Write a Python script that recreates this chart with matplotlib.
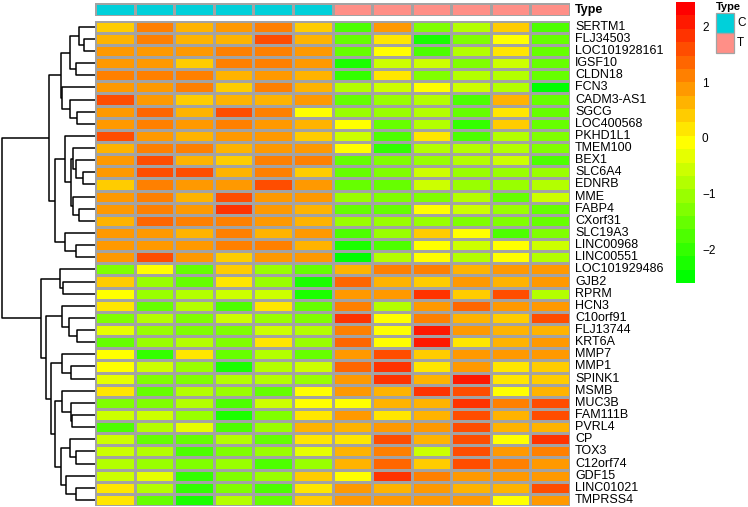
import numpy as np
import matplotlib.pyplot as plt
from matplotlib.colors import LinearSegmentedColormap, ListedColormap
from matplotlib.patches import Rectangle
from matplotlib.transforms import blended_transform_factory

plt.rcParams['font.family'] = ['Liberation Sans', 'DejaVu Sans']

# genes in the row order of the heatmap (top to bottom)
genes = ['SERTM1', 'FLJ34503', 'LOC101928161', 'IGSF10', 'CLDN18', 'FCN3',
         'CADM3-AS1', 'SGCG', 'LOC400568', 'PKHD1L1', 'TMEM100', 'BEX1',
         'SLC6A4', 'EDNRB', 'MME', 'FABP4', 'CXorf31', 'SLC19A3', 'LINC00968',
         'LINC00551', 'LOC101929486', 'GJB2', 'RPRM', 'HCN3', 'C10orf91',
         'FLJ13744', 'KRT6A', 'MMP7', 'MMP1', 'SPINK1', 'MSMB', 'MUC3B',
         'FAM111B', 'PVRL4', 'CP', 'TOX3', 'C12orf74', 'GDF15', 'LINC01021',
         'TMPRSS4']

sample_type = ['C', 'C', 'C', 'C', 'C', 'C', 'T', 'T', 'T', 'T', 'T', 'T']

# scaled expression, one list per gene, one value per sample
expr = [
    [0.5, 1.1, 0.75, 1.0, 1.1, 0.45, -1.7, 0.8, -1.2, -0.8, 0.5, -1.7],
    [0.75, 1.15, 0.75, 0.65, 1.6, 0.7, -1.4, 0.1, -2.1, -1.2, -0.15, -1.4],
    [0.8, 1.0, 0.8, 1.15, 1.15, 1.0, -1.5, -0.15, -1.7, -0.8, 0.3, -1.4],
    [1.0, 1.0, 0.5, 1.15, 1.15, 1.0, -2.1, -0.5, -0.5, -1.2, -0.5, -1.4],
    [1.15, 1.15, 1.25, 0.75, 1.0, 0.75, -1.9, 0.1, -1.2, -0.8, -0.7, -1.4],
    [1.0, 1.0, 1.25, 0.45, 1.15, 0.75, -0.7, -0.5, -0.15, -0.5, -0.8, -2.4],
    [1.6, 1.0, 0.5, 0.75, 0.75, 1.0, -1.5, -1.0, -0.7, -1.7, 0.75, -1.4],
    [0.9, 1.35, 0.75, 1.6, 1.15, -0.15, -1.0, -1.0, -0.8, -1.4, 0.3, -1.5],
    [0.8, 1.15, 1.0, 1.15, 1.0, 0.75, -0.15, -1.5, -0.8, -1.9, 0.5, -1.4],
    [1.6, 1.0, 0.75, 1.0, 1.0, 0.5, -0.5, -1.7, 0.1, -1.7, -0.8, -1.2],
    [0.75, 1.15, 1.15, 0.75, 1.0, 1.0, -0.15, -1.9, -0.7, -0.8, -0.8, -1.2],
    [1.0, 1.6, 0.75, 0.45, 1.15, 1.25, -1.5, -1.2, -1.0, -0.8, -0.5, -1.7],
    [0.9, 1.6, 1.6, 0.75, 1.25, 0.5, -1.5, -1.2, -0.5, -1.0, -1.0, -1.0],
    [0.45, 1.25, 1.0, 1.0, 1.6, 1.0, -1.5, -1.4, -0.5, -1.0, -1.0, -0.8],
    [1.0, 1.15, 0.75, 1.6, 0.9, 1.0, -1.0, -1.2, -1.2, -0.8, -1.5, -0.5],
    [0.8, 1.15, 1.0, 1.8, 0.9, 0.75, -1.5, -1.5, 0.0, -0.5, -1.0, -1.5],
    [0.75, 1.4, 1.15, 1.15, 0.9, 0.75, -1.0, -1.0, -1.0, -1.2, -1.2, -1.4],
    [0.8, 0.9, 0.75, 1.15, 0.65, 0.9, -1.7, -1.0, 0.5, -0.15, -1.7, -1.2],
    [0.8, 0.9, 0.8, 1.15, 1.15, 0.75, -2.3, -1.7, -0.15, -0.5, -0.15, -0.5],
    [0.8, 1.6, 1.0, 0.5, 1.0, 1.0, -2.4, -0.8, -0.15, -0.8, -0.15, -0.8],
    [-1.2, -0.15, -1.5, 0.5, -1.0, -1.5, 0.6, 1.15, 1.15, 0.6, 0.9, 0.9],
    [0.4, -1.0, -1.5, 0.1, -1.0, -2.1, 1.4, 0.75, 0.5, 0.9, 0.75, 0.9],
    [-0.15, -1.0, -0.8, -0.5, -0.5, -2.1, 0.9, 0.9, 1.8, 0.5, 1.6, -0.8],
    [0.1, -1.4, -0.8, -1.7, 0.1, -1.4, 1.15, -0.8, 0.9, 1.4, 0.9, 1.0],
    [-1.2, -0.8, -1.2, -0.5, -1.0, -1.2, 1.8, -0.15, 1.15, 0.75, 0.5, 1.6],
    [-0.3, -1.0, -1.2, -1.2, -0.5, -0.8, 1.15, -0.15, 2.2, 0.9, 0.75, 0.75],
    [-1.4, -1.0, -0.8, -1.2, 0.1, -1.0, 1.4, -0.15, 2.2, 0.1, 0.6, 1.0],
    [-0.15, -1.9, 0.1, -1.4, -0.8, -1.5, 1.0, 1.6, 0.45, 0.8, 0.9, 0.9],
    [-0.15, -0.5, -1.0, -2.2, -0.8, -0.5, 1.4, 1.8, 0.1, 0.9, 0.1, 0.5],
    [-0.3, -1.2, -1.2, -0.8, -0.8, -1.0, 0.9, 1.8, 0.75, 2.2, 0.1, 0.5],
    [0.1, -1.5, -0.8, -1.0, -1.5, -0.15, 0.9, 0.75, 1.8, 1.6, -0.15, 0.75],
    [-1.2, -1.2, -0.8, -1.7, -0.5, -0.15, -0.15, 0.6, 0.75, 1.8, 1.15, 1.6],
    [-0.5, -0.5, -1.0, -2.2, -1.2, 0.1, 0.9, 0.1, 0.75, 1.6, 0.6, 1.6],
    [-1.7, -0.7, -0.3, -1.7, -1.0, 0.75, 0.75, 0.9, 1.0, 1.6, 0.6, 0.75],
    [-0.5, -1.4, -1.5, -0.8, -1.5, 0.1, 0.3, 1.6, 0.55, 1.6, -0.15, 1.8],
    [-0.5, -0.8, -1.7, -1.2, -1.0, -0.3, 0.75, 1.25, -0.5, 1.6, 0.9, 1.15],
    [-0.8, -1.0, -1.2, -1.0, -1.7, -1.0, 0.6, 1.4, 0.5, 1.6, 1.15, 0.9],
    [-0.5, -0.3, -2.0, -1.2, -1.0, 0.5, -0.15, 1.8, 1.15, 0.9, 0.9, 0.8],
    [0.2, -0.8, -1.9, -1.2, -1.7, 0.1, 0.8, 0.75, 0.9, 0.75, 0.75, 1.6],
    [0.3, -1.4, -2.3, -0.7, -1.4, 0.5, 0.9, 0.9, 0.9, 0.9, -0.15, 0.9],
]

# row clustering: (left node, right node, height); leaves are 0-39,
# each merge creates node 40, 41, ... in turn
merges = [
    (1, 2, 10.7), (0, 40, 15.7), (3, 4, 19), (41, 42, 25),
    (7, 8, 18.3), (6, 44, 25), (5, 45, 33.5), (43, 46, 34),
    (12, 13, 12.3), (11, 48, 19), (10, 49, 21.7), (15, 16, 15.7),
    (14, 51, 22), (50, 52, 24.3), (9, 53, 30), (18, 19, 19),
    (17, 55, 30), (54, 56, 40), (47, 57, 46.5),
    (21, 22, 31.7), (20, 59, 35), (25, 26, 18.3), (24, 61, 25.7),
    (23, 62, 33.3), (28, 29, 24), (27, 64, 33.3), (32, 33, 22.7),
    (31, 66, 24), (30, 67, 32.7), (35, 36, 19.3), (34, 69, 25),
    (38, 39, 19.3), (37, 71, 29), (70, 72, 34.3), (68, 73, 40),
    (65, 74, 44), (63, 75, 49), (60, 76, 54), (58, 77, 92.7),
]

type_colors = {'C': '#00D0DA', 'T': '#FF8F87'}
border = '#A3A3A3'
vmin, vmax = -2.57, 2.46
cmap = LinearSegmentedColormap.from_list('gyr', ['#00FF00', '#FFFF00', '#FF0000'], N=21)

W, H = 748, 507
fig = plt.figure(figsize=(W / 100, H / 100), dpi=100)


def px_axes(x0, y0, x1, y1):
    ax = fig.add_axes([x0 / W, 1 - y1 / H, (x1 - x0) / W, (y1 - y0) / H])
    ax.set_axis_off()
    return ax


n_rows, n_cols = len(genes), len(sample_type)

# main heatmap
ax = px_axes(95, 20.7, 570, 506)
ax.pcolormesh(np.array(expr), cmap=cmap, vmin=vmin, vmax=vmax,
              edgecolors=border, linewidth=0.9)
ax.set_xlim(0, n_cols)
ax.set_ylim(n_rows, 0)
lab_tr = blended_transform_factory(ax.transAxes, ax.transData)
for i, g in enumerate(genes):
    ax.text(1 + 5 / 475, i + 0.5, g, transform=lab_tr, ha='left', va='center',
            fontsize=9)

# column annotation bar
ax_ann = px_axes(95, 3, 570, 16.3)
codes = np.array([[0 if t == 'C' else 1 for t in sample_type]])
ax_ann.pcolormesh(codes, cmap=ListedColormap([type_colors['C'], type_colors['T']]),
                  vmin=0, vmax=1, edgecolors=border, linewidth=0.9)
ax_ann.set_xlim(0, n_cols)
ax_ann.text(1 + 5 / 475, 0.5, 'Type', transform=ax_ann.transAxes, ha='left',
            va='center', fontsize=9, fontweight='bold')

# row dendrogram
ax_d = px_axes(0, 20.7, 95, 506)
node_y = {i: i + 0.5 for i in range(n_rows)}
node_h = {i: 0.0 for i in range(n_rows)}
for k, (a, b, h) in enumerate(merges):
    ax_d.plot([node_h[a], h, h, node_h[b]],
              [node_y[a], node_y[a], node_y[b], node_y[b]],
              color='black', lw=1.1, clip_on=False, solid_capstyle='butt')
    node_y[n_rows + k] = (node_y[a] + node_y[b]) / 2
    node_h[n_rows + k] = h
ax_d.set_xlim(95, 0)
ax_d.set_ylim(n_rows, 0)

# colour key
ax_cb = px_axes(676, 2, 695, 283)
bounds = np.linspace(vmin, vmax, cmap.N + 1)
centers = (bounds[:-1] + bounds[1:]) / 2
ax_cb.pcolormesh([0, 1], bounds, centers[:, None], cmap=cmap, vmin=vmin, vmax=vmax)
ax_cb.set_ylim(vmin, vmax)
cb_tr = blended_transform_factory(ax_cb.transAxes, ax_cb.transData)
for t in [2, 1, 0, -1, -2]:
    ax_cb.text(1 + 7 / 19, t, str(t).replace('-', '\u2212'), transform=cb_tr,
               ha='left', va='center', fontsize=8.5)

# annotation legend
fig.text(716 / W, 1 - 6.5 / H, 'Type', ha='left', va='center', fontsize=8,
         fontweight='bold')
for k, t in enumerate(['C', 'T']):
    y0 = 13.3 + 20 * k
    fig.patches.append(Rectangle((716 / W, 1 - (y0 + 20) / H), 18 / W, 20 / H,
                                 transform=fig.transFigure, facecolor=type_colors[t],
                                 edgecolor=border, linewidth=0.9))
    fig.text(737 / W, 1 - (y0 + 10) / H, t, ha='left', va='center', fontsize=8.5)

fig.savefig('out.png', dpi=100)
